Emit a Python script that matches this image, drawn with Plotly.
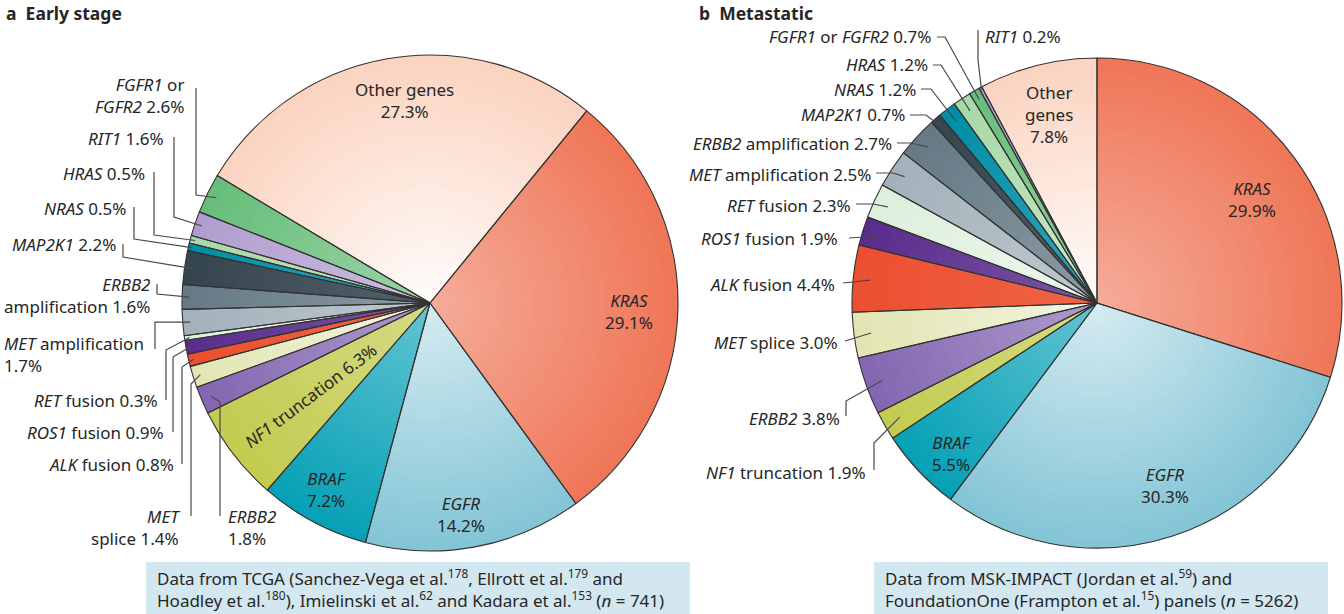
import math
import plotly.graph_objects as go

W, H = 1344, 614

# ---------------- data ----------------
genes_a = ["KRAS", "EGFR", "BRAF", "NF1 truncation", "ERBB2", "MET splice", "ALK fusion",
           "ROS1 fusion", "RET fusion", "MET amplification", "ERBB2 amplification", "MAP2K1",
           "NRAS", "HRAS", "RIT1", "FGFR1 or FGFR2", "Other genes"]
values_a = [29.1, 14.2, 7.2, 6.3, 1.8, 1.4, 0.8, 0.9, 0.3, 1.7, 1.6, 2.2, 0.5, 0.5, 1.6, 2.6, 27.3]

genes_b = ["KRAS", "EGFR", "BRAF", "NF1 truncation", "ERBB2", "MET splice", "ALK fusion",
           "ROS1 fusion", "RET fusion", "MET amplification", "ERBB2 amplification", "MAP2K1",
           "NRAS", "HRAS", "FGFR1 or FGFR2", "RIT1", "Other genes"]
values_b = [29.9, 30.3, 5.5, 1.9, 3.8, 3.0, 4.4, 1.9, 2.3, 2.5, 2.7, 0.7, 1.2, 1.2, 0.7, 0.2, 7.8]

# ---------------- styles ----------------
base_colors = {
    "KRAS": "#ef7657", "EGFR": "#82c4d5", "BRAF": "#05a0b6", "NF1 truncation": "#c3cb50",
    "ERBB2": "#8366b0", "MET splice": "#e2e5b2", "ALK fusion": "#ec4f2f", "ROS1 fusion": "#5a2c8c",
    "RET fusion": "#ddefdc", "MET amplification": "#a3b1ba", "ERBB2 amplification": "#647a85",
    "MAP2K1": "#35454f", "NRAS": "#008ea6", "HRAS": "#a6d8a6", "RIT1": "#b09ccf",
    "FGFR1 or FGFR2": "#66bd78", "Other genes": "#fbd3c0",
}
# colour strength at the pie centre (1 = full colour), blending to full colour at the rim
centre_strength = {
    "KRAS": 0.6, "EGFR": 0.33, "BRAF": 0.62, "NF1 truncation": 0.7, "ERBB2": 0.65,
    "MET splice": 0.4, "ALK fusion": 0.88, "ROS1 fusion": 0.8, "RET fusion": 0.5,
    "MET amplification": 0.7, "ERBB2 amplification": 0.75, "MAP2K1": 0.85, "NRAS": 0.8,
    "HRAS": 0.6, "RIT1": 0.65, "FGFR1 or FGFR2": 0.65, "Other genes": 0.06,
}
TXT = "#262626"
LINE = "#4a4a4a"
FONT = "Noto Sans"
FS = 17

fmt_a = {
    "KRAS": "<i>KRAS</i><br>{v}%", "EGFR": "<i>EGFR</i><br>{v}%", "BRAF": "<i>BRAF</i><br>{v}%",
    "Other genes": "Other genes<br>{v}%", "NF1 truncation": "<i>NF1</i> truncation {v}%",
    "FGFR1 or FGFR2": "<i>FGFR1</i> or<br><i>FGFR2</i> {v}%", "RIT1": "<i>RIT1</i> {v}%",
    "HRAS": "<i>HRAS</i> {v}%", "NRAS": "<i>NRAS</i> {v}%", "MAP2K1": "<i>MAP2K1</i> {v}%",
    "ERBB2 amplification": "<i>ERBB2</i><br>amplification {v}%",
    "MET amplification": "<i>MET</i> amplification<br>{v}%",
    "RET fusion": "<i>RET</i> fusion {v}%", "ROS1 fusion": "<i>ROS1</i> fusion {v}%",
    "ALK fusion": "<i>ALK</i> fusion {v}%", "MET splice": "<i>MET</i><br>splice {v}%",
    "ERBB2": "<i>ERBB2</i><br>{v}%",
}
fmt_b = {
    "KRAS": "<i>KRAS</i><br>{v}%", "EGFR": "<i>EGFR</i><br>{v}%", "BRAF": "<i>BRAF</i><br>{v}%",
    "Other genes": "Other<br>genes<br>{v}%",
    "FGFR1 or FGFR2": "<i>FGFR1</i> or <i>FGFR2</i> {v}%", "RIT1": "<i>RIT1</i> {v}%",
    "HRAS": "<i>HRAS</i> {v}%", "NRAS": "<i>NRAS</i> {v}%", "MAP2K1": "<i>MAP2K1</i> {v}%",
    "ERBB2 amplification": "<i>ERBB2</i> amplification {v}%",
    "MET amplification": "<i>MET</i> amplification {v}%",
    "RET fusion": "<i>RET</i> fusion {v}%", "ROS1 fusion": "<i>ROS1</i> fusion {v}%",
    "ALK fusion": "<i>ALK</i> fusion {v}%", "MET splice": "<i>MET</i> splice {v}%",
    "ERBB2": "<i>ERBB2</i> {v}%", "NF1 truncation": "<i>NF1</i> truncation {v}%",
}

# pie geometry (pixels)
CA, RA, ROT_A = (430, 303), 248, 39.2
CB, RB, ROT_B = (1097, 303), 245, 0.0

# outside label layout: gene -> (x, y, xanchor, knee points, tip radius)
lay_a = {
    "FGFR1 or FGFR2": (186, 95, "right", [(196, 88), (196, 195)], 0.96),
    "RIT1": (166, 138, "right", [(174, 137), (174, 217)], 0.97),
    "HRAS": (147, 173, "right", [(154, 172), (154, 235)], 0.98),
    "NRAS": (128, 209, "right", [(134, 207), (134, 239)], 0.98),
    "MAP2K1": (118, 245, "right", [(123, 244), (123, 257)], 0.96),
    "ERBB2 amplification": (152, 295, "right", [(157, 284), (157, 294)], 0.97),
    "MET amplification": (2, 354, "left", [(155, 349), (155, 322)], 0.97),
    "RET fusion": (160, 400, "right", [(166, 400), (166, 350)], 0.98),
    "ROS1 fusion": (166, 432, "right", [(173, 432), (173, 357)], 0.98),
    "ALK fusion": (176, 464, "right", [(182, 464), (182, 367)], 0.98),
    "MET splice": (183, 527, "right", [(191, 516), (191, 384)], 0.97),
    "ERBB2": (226, 527, "left", [(220, 516), (220, 402)], 0.96),
}
lay_b = {
    "FGFR1 or FGFR2": (933, 36, "right", [(937, 37), (945, 37)], 0.96),
    "RIT1": (983, 36, "left", [(978, 30), (978, 60)], 0.99),
    "HRAS": (930, 64, "right", [(933, 65), (941, 65)], 0.94),
    "NRAS": (918, 89, "right", [(921, 89), (931, 89)], 0.94),
    "MAP2K1": (907, 115, "right", [(910, 115), (926, 115)], 0.94),
    "ERBB2 amplification": (894, 143, "right", [(897, 143), (910, 143)], 0.94),
    "MET amplification": (873, 174, "right", [(876, 173), (893, 173)], 0.94),
    "RET fusion": (853, 206, "right", [(856, 204), (873, 204)], 0.94),
    "ROS1 fusion": (840, 239, "right", [(849, 238)], 0.93),
    "ALK fusion": (837, 284, "right", [(843, 283)], 0.93),
    "MET splice": (840, 342, "right", [(845, 341)], 0.93),
    "ERBB2": (842, 418, "right", [(846, 416), (846, 401)], 0.93),
    "NF1 truncation": (868, 472, "right", [(874, 470), (874, 443)], 0.93),
}
# inside labels: gene -> (x, y, angle)
ins_a = {"Other genes": (404, 101, 0), "KRAS": (629, 311, 0), "EGFR": (461, 514, 0),
         "BRAF": (327, 489, 0), "NF1 truncation": (311, 396, -37)}
ins_b = {"Other genes": (1049, 115, 0), "KRAS": (1252, 200, 0), "EGFR": (1165, 485, 0),
         "BRAF": (952, 453, 0)}


def px(x):
    return x / W


def py(y):
    return 1 - y / H


def blend(hexc, a):
    h = hexc.lstrip("#")
    r, g, b = (int(h[i:i + 2], 16) for i in (0, 2, 4))
    return "rgb(%d,%d,%d)" % tuple(round(255 - a * (255 - c)) for c in (r, g, b))


fig = go.Figure()
NR = 34


def add_pie(genes, values, center, R, rot):
    cx, cy = center
    for k in range(NR):
        f = 1 - k / NR
        t = f - 0.5 / NR
        r = R * f
        cols = []
        for g in genes:
            a0 = centre_strength[g]
            cols.append(blend(base_colors[g], a0 + (1 - a0) * t))
        fig.add_trace(go.Pie(
            labels=genes, values=values, sort=False, direction="clockwise", rotation=rot,
            marker=dict(colors=cols, line=dict(width=0)),
            textinfo="none", hoverinfo="skip", showlegend=False,
            domain=dict(x=[px(cx - r), px(cx + r)], y=[py(cy + r), py(cy - r)]),
        ))
    fig.add_trace(go.Pie(
        labels=genes, values=values, sort=False, direction="clockwise", rotation=rot,
        marker=dict(colors=["rgba(0,0,0,0)"] * len(genes), line=dict(color="#333333", width=1.1)),
        textinfo="none", hoverinfo="skip", showlegend=False,
        domain=dict(x=[px(cx - R), px(cx + R)], y=[py(cy + R), py(cy - R)]),
    ))


def mid_angles(values, rot):
    tot = sum(values)
    out, cum = [], rot
    for v in values:
        span = v / tot * 360
        out.append(cum + span / 2)
        cum += span
    return out


annotations = []
shapes = []


def add_text(txt, x, y, xanchor, size=FS, angle=0):
    annotations.append(dict(x=px(x), y=py(y), xref="paper", yref="paper", text=txt,
                            showarrow=False, xanchor=xanchor, yanchor="middle",
                            align=xanchor if xanchor != "center" else "center",
                            textangle=angle,
                            font=dict(family=FONT, size=size, color=TXT)))


def add_labels(genes, values, center, R, rot, lay, ins, fmt_out):
    cx, cy = center
    mids = mid_angles(values, rot)
    for g, v, m in zip(genes, values, mids):
        txt = fmt_out[g].format(v=v)
        if g in lay:
            x, y, xa, knees, rt = lay[g]
            add_text(txt, x, y, xa)
            th = math.radians(m)
            tip = (cx + rt * R * math.sin(th), cy - rt * R * math.cos(th))
            pts = knees + [tip]
            path = "M %f,%f " % (px(pts[0][0]), py(pts[0][1])) + " ".join(
                "L %f,%f" % (px(p[0]), py(p[1])) for p in pts[1:])
            shapes.append(dict(type="path", xref="paper", yref="paper", path=path,
                               line=dict(color=LINE, width=1.2)))
        if g in ins:
            x, y, ang = ins[g]
            add_text(txt, x, y, "center", angle=ang)


add_pie(genes_a, values_a, CA, RA, ROT_A)
add_pie(genes_b, values_b, CB, RB, ROT_B)
add_labels(genes_a, values_a, CA, RA, ROT_A, lay_a, ins_a, fmt_a)
add_labels(genes_b, values_b, CB, RB, ROT_B, lay_b, ins_b, fmt_b)

# panel titles
add_text("<b>a</b>  <b>Early stage</b>", 4, 13, "left", size=17.5)
add_text("<b>b</b>  <b>Metastatic</b>", 697, 13, "left", size=17.5)

# source boxes
BOX = "#d2e7f0"
shapes.append(dict(type="rect", xref="paper", yref="paper", x0=px(146), x1=px(690),
                   y0=py(614), y1=py(562), fillcolor=BOX, line=dict(width=0), layer="below"))
shapes.append(dict(type="rect", xref="paper", yref="paper", x0=px(874), x1=px(1328),
                   y0=py(614), y1=py(562), fillcolor=BOX, line=dict(width=0), layer="below"))
add_text("Data from TCGA (Sanchez-Vega et al.<sup>178</sup>, Ellrott et al.<sup>179</sup> and<br>"
         "Hoadley et al.<sup>180</sup>), Imielinski et al.<sup>62</sup> and Kadara et al.<sup>153</sup> (<i>n</i> = 741)",
         155, 588, "left")
add_text("Data from MSK-IMPACT (Jordan et al.<sup>59</sup>) and<br>"
         "FoundationOne (Frampton et al.<sup>15</sup>) panels (<i>n</i> = 5262)",
         883, 588, "left")

fig.update_layout(width=W, height=H, margin=dict(l=0, r=0, t=0, b=0),
                  paper_bgcolor="white", plot_bgcolor="white",
                  annotations=annotations, shapes=shapes)
fig.write_html("out.html", config={"displayModeBar": False},
               post_script="document.body.style.margin='0px';")
